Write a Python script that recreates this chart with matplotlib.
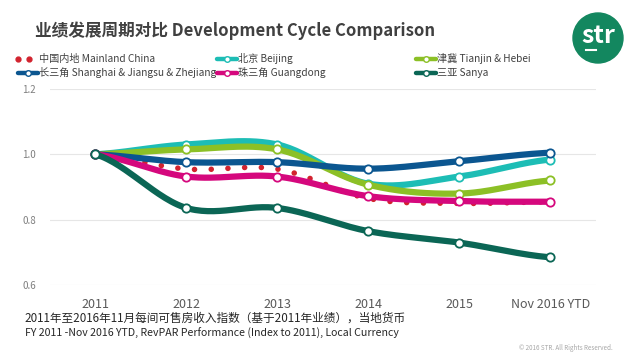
import numpy as np
import matplotlib
matplotlib.use("Agg")
import matplotlib.pyplot as plt
from matplotlib.patches import Circle

plt.rcParams['font.family'] = ['Noto Sans CJK SC', 'DejaVu Sans']

# ---------------------------------------------------------------
# data (RevPAR index, 2011 = 1.0)
# ---------------------------------------------------------------
years = ["2011", "2012", "2013", "2014", "2015", "Nov 2016 YTD"]

mainland = [1.0, 0.955, 0.955, 0.865, 0.850, 0.855]
beijing = [1.0, 1.030, 1.030, 0.910, 0.932, 0.984]
tianjin = [1.0, 1.015, 1.015, 0.907, 0.880, 0.920]
shanghai = [1.0, 0.976, 0.976, 0.956, 0.979, 1.005]
guangdong = [1.0, 0.932, 0.932, 0.872, 0.857, 0.855]
sanya = [1.0, 0.836, 0.836, 0.765, 0.730, 0.685]

names = ["中国内地 Mainland China", "北京 Beijing", "津冀 Tianjin & Hebei",
         "长三角 Shanghai & Jiangsu & Zhejiang", "珠三角 Guangdong", "三亚 Sanya"]
colors = ["#D2232E", "#1DBDB5", "#8CC026", "#0B5690", "#D5087D", "#0B6655"]


def smooth(x, y, n=30):
    # catmull-rom style smoothing, like a "smoothed line" in Excel
    x = np.asarray(x, float)
    y = np.asarray(y, float)
    px = np.concatenate([[2 * x[0] - x[1]], x, [2 * x[-1] - x[-2]]])
    py = np.concatenate([[y[0]], y, [y[-1]]])
    xs, ys = [], []
    for i in range(1, len(px) - 2):
        t = np.linspace(0, 1, n, endpoint=False)
        for arr, out in ((px, xs), (py, ys)):
            p0, p1, p2, p3 = arr[i - 1], arr[i], arr[i + 1], arr[i + 2]
            out.append(0.5 * (2 * p1 + (-p0 + p2) * t
                              + (2 * p0 - 5 * p1 + 4 * p2 - p3) * t ** 2
                              + (-p0 + 3 * p1 - 3 * p2 + p3) * t ** 3))
    xs.append([x[-1]])
    ys.append([y[-1]])
    return np.concatenate(xs), np.concatenate(ys)


fig = plt.figure(figsize=(6.4, 3.6), dpi=100)
ax = fig.add_axes([0.078, 0.208, 0.853, 0.545])

xi = np.arange(len(years))
series = [mainland, beijing, tianjin, shanghai, guangdong, sanya]

for k, (vals, col) in enumerate(zip(series, colors)):
    sx, sy = smooth(xi, vals)
    if k == 0:
        ax.plot(sx, sy, color=col, lw=4.0, linestyle=(0, (0.01, 3.0)),
                dash_capstyle='round', zorder=2)
    else:
        ax.plot(sx, sy, color=col, lw=4.5, solid_capstyle='round', zorder=2 + k)
        ax.plot(xi, vals, 'o', ms=6, mfc='white', mec=col, mew=1.3, zorder=2 + k)

ax.set_xlim(-0.5, len(years) - 0.5)
ax.set_ylim(0.6, 1.2)
ax.set_yticks([0.6, 0.8, 1.0, 1.2])
ax.set_yticklabels(["0.6", "0.8", "1.0", "1.2"])
ax.set_xticks(xi)
ax.set_xticklabels(years)
ax.grid(axis='y', color='#E6E6E6', lw=0.8)
ax.set_axisbelow(True)
for s in ax.spines.values():
    s.set_visible(False)
ax.tick_params(axis='y', length=0, labelsize=7, labelcolor='#7F7F7F', pad=10)
ax.tick_params(axis='x', length=0, labelsize=9, labelcolor='#595959', pad=9)

# title + logo
fig.text(0.055, 0.915, "业绩发展周期对比 Development Cycle Comparison",
         fontsize=12, fontweight='bold', color='#404040', va='center')
logo = Circle((598, 360 - 38), 25, transform=None, color='#13875F', zorder=5)
fig.patches.append(logo)
fig.text(598 / 640, 1 - 36 / 360, "str", fontsize=18, color='white', ha='center',
         va='center', fontweight='bold', zorder=6)
fig.lines.append(plt.Line2D([586 / 640, 596 / 640], [1 - 50 / 360, 1 - 50 / 360],
                            transform=fig.transFigure, color='white', lw=1.5, zorder=6))

# legend
leg_x = [0.028, 0.339, 0.650]
leg_y = [1 - 59 / 360, 1 - 73 / 360]
for k, (nm, col) in enumerate(zip(names, colors)):
    lx = leg_x[k % 3]
    ly = leg_y[k // 3]
    if k == 0:
        fig.lines.append(plt.Line2D([lx, lx + 0.018], [ly, ly], transform=fig.transFigure,
                                    color=col, lw=0, marker='o', ms=3.5))
    else:
        fig.lines.append(plt.Line2D([lx, lx + 0.031], [ly, ly], transform=fig.transFigure,
                                    color=col, lw=3.2, solid_capstyle='round'))
        fig.lines.append(plt.Line2D([lx + 0.0155], [ly], transform=fig.transFigure,
                                    color=col, marker='o', ms=4, mfc='white', mew=1))
    fig.text(lx + 0.033, ly, nm, fontsize=7.3, color='#404040', va='center')

# footnotes
fig.text(0.039, 1 - 318 / 360, "2011年至2016年11月每间可售房收入指数（基于2011年业绩），当地货币",
         fontsize=8.4, color='#262626', va='center')
fig.text(0.039, 1 - 333 / 360, "FY 2011 -Nov 2016 YTD, RevPAR Performance (Index to 2011), Local Currency",
         fontsize=7.6, color='#262626', va='center')
fig.text(0.958, 1 - 348 / 360, "© 2016 STR. All Rights Reserved.", fontsize=4.5,
         color='#A6A6A6', ha='right', va='center')

fig.savefig("out.png", dpi=100)
